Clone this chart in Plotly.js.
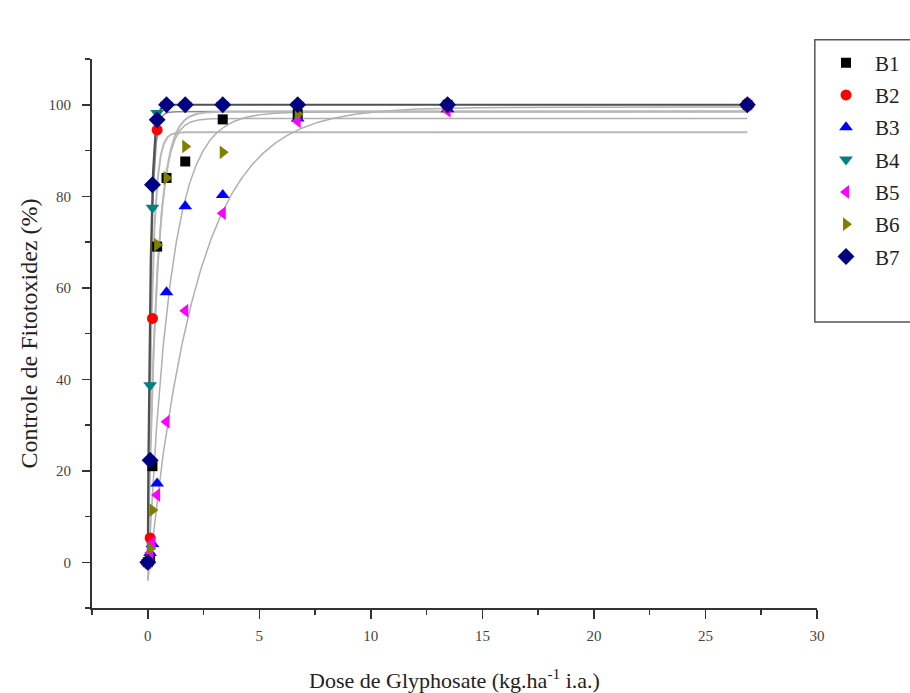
<!DOCTYPE html>
<html>
<head>
<meta charset="utf-8">
<script src="https://cdn.plot.ly/plotly-3.0.1.min.js"></script>
<style>html,body{margin:0;padding:0;background:#fff;}#chart{width:910px;height:693px;}</style>
</head>
<body>
<div id="chart"></div>
<script>
// Doses of glyphosate (kg.ha-1 i.a.)
const doses = [0, 0.105, 0.21, 0.42, 0.84, 1.68, 3.36, 6.72, 13.44, 26.88];
const seriesNames = ["B1", "B2", "B3", "B4", "B5", "B6", "B7"];
// Observed phytotoxicity control (%) per biotype
const B1 = [0, 1, 21, 69, 84, 87.6, 96.8, 98, 100, 100];
const B2 = [0, 5.3, 53.3, 94.5, 100, 100, 100, 100, 100, 100];
const B3 = [0, 2, 4, 17.2, 59, 77.8, 80.3, 97, 99, 100];
const B4 = [0, 38.7, 77.5, 98.2, 100, 100, 100, 100, 100, 100];
const B5 = [0, 2, 4.2, 14.7, 30.7, 55, 76.3, 96.4, 98.7, 100];
const B6 = [0, 3, 11.4, 69.4, 84, 90.9, 89.6, 98, 99.5, 100];
const B7 = [0, 22.3, 82.5, 96.7, 100, 100, 100, 100, 100, 100];
// Fitted exponential model parameters y = y0 + (a - y0)(1 - exp(-b x))
const fitA  = [97, 94, 98.5, 98.5, 99.5, 98.5, 100];
const fitB  = [2.5, 5, 1.0, 7, 0.45, 2.4, 8];
const fitY0 = [0, 0, -4, 0, -4, 0, 0];

const values = [B1, B2, B3, B4, B5, B6, B7];
const colors = ["#000000", "#ff0000", "#0000ff", "#008080", "#ff00ff", "#808000", "#000080"];
const symbols = ["square", "circle", "triangle-up", "triangle-down", "triangle-left", "triangle-right", "diamond"];
const sizes = [10, 11, 12, 12, 12, 12, 13];
const lineColors = ["#b0b0b0", "#b8b8b8", "#b0b0b0", "#8a8a8a", "#b0b0b0", "#b8b8b8", "#505050"];
const lineWidths = [1.5, 2, 1.5, 1.5, 1.5, 2, 2.2];

const traces = [];
// fit curves
const xMax = doses[doses.length - 1];
for (let i = 0; i < seriesNames.length; i++) {
  const xs = [], ys = [];
  for (let k = 0; k <= 600; k++) {
    const x = xMax * Math.pow(k / 600, 2);
    xs.push(x);
    ys.push(fitY0[i] + (fitA[i] - fitY0[i]) * (1 - Math.exp(-fitB[i] * x)));
  }
  traces.push({x: xs, y: ys, type: "scatter", mode: "lines", showlegend: false, hoverinfo: "skip",
    line: {color: lineColors[i], width: lineWidths[i]}});
}
// observed points
for (let i = 0; i < seriesNames.length; i++) {
  traces.push({x: doses, y: values[i], type: "scatter", mode: "markers", name: seriesNames[i],
    legendgroup: seriesNames[i],
    marker: {symbol: symbols[i], color: colors[i], size: sizes[i], line: {width: 0}}});
}

const serif = "Liberation Serif, Times New Roman, serif";
const layout = {
  width: 910, height: 693,
  margin: {l: 92, r: 93, t: 59, b: 85, autoexpand: false},
  paper_bgcolor: "#ffffff", plot_bgcolor: "#ffffff",
  showlegend: true,
  legend: {x: 1.0, xanchor: "left", y: 1.03, yanchor: "top",
    font: {family: serif, size: 21, color: "#222"},
    bgcolor: "rgba(0,0,0,0)", borderwidth: 0, tracegroupgap: 2, itemwidth: 48},
  xaxis: {range: [-2.5, 30], tickmode: "array", tickvals: [0, 5, 10, 15, 20, 25, 30],
    ticks: "outside", ticklen: 9, tickwidth: 1.5, tickcolor: "#333", ticklabelstandoff: 4,
    minor: {tickvals: [-2.5, 2.5, 7.5, 12.5, 17.5, 22.5, 27.5], ticks: "outside", ticklen: 5, tickwidth: 1.5, tickcolor: "#333"},
    showline: true, linecolor: "#333", linewidth: 2, showgrid: false, zeroline: false,
    tickfont: {family: serif, size: 15, color: "#444"},
    title: {text: "Dose de Glyphosate (kg.ha<sup>-1</sup> i.a.)", font: {family: serif, size: 22, color: "#222"}, standoff: 33}},
  yaxis: {range: [-10, 110], tickmode: "array", tickvals: [0, 20, 40, 60, 80, 100],
    ticks: "outside", ticklen: 8, tickwidth: 1.5, tickcolor: "#333", ticklabelstandoff: 8,
    minor: {tickvals: [-10, 10, 30, 50, 70, 90, 110], ticks: "outside", ticklen: 5, tickwidth: 1.5, tickcolor: "#333"},
    showline: true, linecolor: "#333", linewidth: 2, showgrid: false, zeroline: false,
    tickfont: {family: serif, size: 15, color: "#444"},
    title: {text: "Controle de Fitotoxidez (%)", font: {family: serif, size: 24, color: "#222"}, standoff: 4}},
  shapes: [{type: "rect", xref: "paper", yref: "paper", x0: 0.997, x1: 1.2, y0: 0.521, y1: 1.035,
    line: {color: "#555", width: 1.5}, fillcolor: "rgba(0,0,0,0)", layer: "below"}]
};

Plotly.newPlot("chart", traces, layout, {displayModeBar: false, staticPlot: true});
</script>
</body>
</html>
